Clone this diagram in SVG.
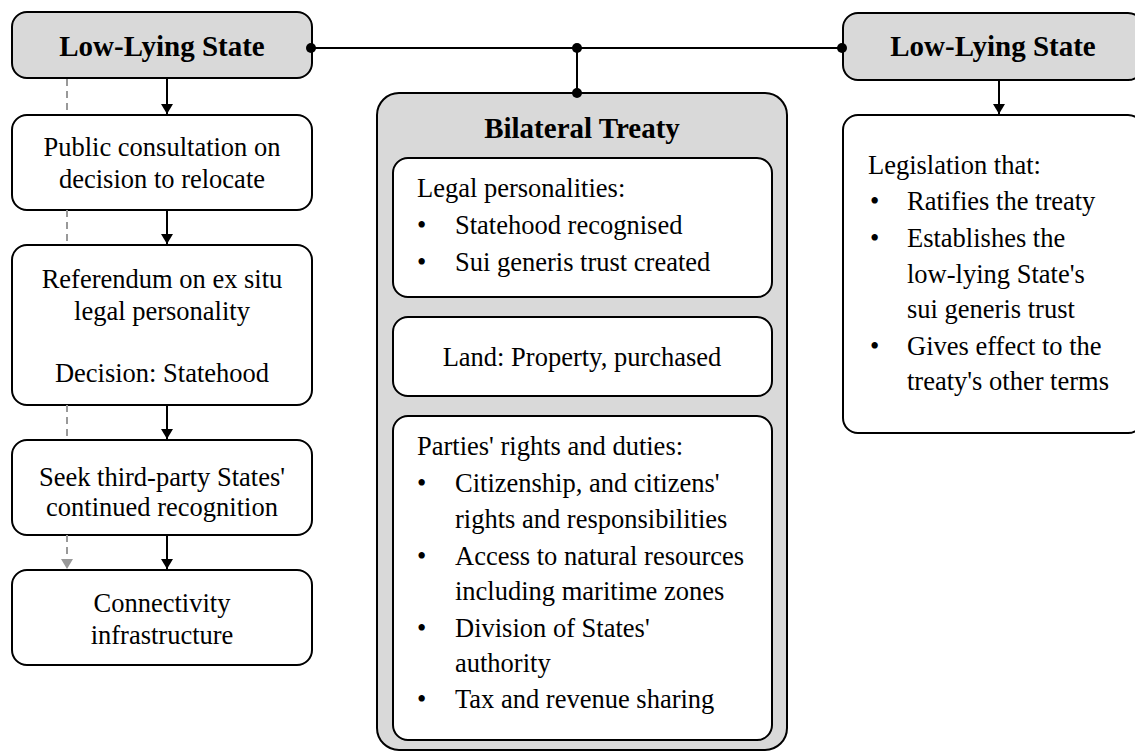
<svg xmlns="http://www.w3.org/2000/svg" width="1135" height="753" viewBox="0 0 1135 753">
<style>
.box{fill:#fff;stroke:#000;stroke-width:2}
.grey{fill:#d9d9d9;stroke:#000;stroke-width:2}
.t{font-family:'Liberation Serif','Tinos','Times New Roman','DejaVu Serif',serif;font-size:26.5px;fill:#000}
.b{font-family:'Liberation Serif','Tinos','Times New Roman','DejaVu Serif',serif;font-size:29px;font-weight:bold;fill:#000}
.c{text-anchor:middle}
.ln{stroke:#000;stroke-width:2;fill:none}
.dash{stroke:#999;stroke-width:2;fill:none;stroke-dasharray:7,5}
</style>
<defs>
<marker id="ah" viewBox="0 0 10 10" refX="10" refY="5" markerWidth="5" markerHeight="6" orient="auto" markerUnits="strokeWidth" preserveAspectRatio="none"><path d="M0,0 L10,5 L0,10 Z" fill="#000"/></marker>
<marker id="ahg" viewBox="0 0 10 10" refX="10" refY="5" markerWidth="5" markerHeight="6" orient="auto" markerUnits="strokeWidth" preserveAspectRatio="none"><path d="M0,0 L10,5 L0,10 Z" fill="#999"/></marker>
</defs>
<g id="lls-left">
<rect class="grey" x="12" y="12" width="300" height="66" rx="15"/>
<text class="b c" x="162" y="56">Low-Lying State</text>
</g>
<g id="consultation">
<rect class="box" x="12" y="115" width="300" height="95" rx="15"/>
<text class="t c" x="162" y="156">Public consultation on</text>
<text class="t c" x="162" y="188">decision to relocate</text>
</g>
<g id="referendum">
<rect class="box" x="12" y="245" width="300" height="160" rx="15"/>
<text class="t c" x="162" y="288">Referendum on ex situ</text>
<text class="t c" x="162" y="320">legal personality</text>
<text class="t c" x="162" y="382">Decision: Statehood</text>
</g>
<g id="recognition">
<rect class="box" x="12" y="440" width="300" height="95" rx="15"/>
<text class="t c" x="162" y="486">Seek third-party States'</text>
<text class="t c" x="162" y="516">continued recognition</text>
</g>
<g id="connectivity">
<rect class="box" x="12" y="570" width="300" height="95" rx="15"/>
<text class="t c" x="162" y="612">Connectivity</text>
<text class="t c" x="162" y="644">infrastructure</text>
</g>
<g id="treaty">
<rect class="grey" x="377" y="93" width="410" height="657" rx="22"/>
<text class="b c" x="582" y="138">Bilateral Treaty</text>
</g>
<g id="legal-personalities">
<rect class="box" x="393" y="158" width="379" height="139" rx="15"/>
<text class="t" x="417" y="197">Legal personalities:</text>
<text class="t" x="417" y="234">•</text><text class="t" x="455" y="234">Statehood recognised</text>
<text class="t" x="417" y="271">•</text><text class="t" x="455" y="271">Sui generis trust created</text>
</g>
<g id="land">
<rect class="box" x="393" y="317" width="379" height="79" rx="15"/>
<text class="t c" x="582" y="366">Land: Property, purchased</text>
</g>
<g id="rights">
<rect class="box" x="393" y="416" width="379" height="324" rx="15"/>
<text class="t" x="417" y="455">Parties' rights and duties:</text>
<text class="t" x="417" y="492">•</text><text class="t" x="455" y="492">Citizenship, and citizens'</text>
<text class="t" x="455" y="528">rights and responsibilities</text>
<text class="t" x="417" y="565">•</text><text class="t" x="455" y="565">Access to natural resources</text>
<text class="t" x="455" y="600">including maritime zones</text>
<text class="t" x="417" y="637">•</text><text class="t" x="455" y="637">Division of States'</text>
<text class="t" x="455" y="672">authority</text>
<text class="t" x="417" y="708">•</text><text class="t" x="455" y="708">Tax and revenue sharing</text>
</g>
<g id="lls-right">
<rect class="grey" x="843" y="13" width="300" height="67" rx="15"/>
<text class="b c" x="993" y="56">Low-Lying State</text>
</g>
<g id="legislation">
<rect class="box" x="843" y="115" width="300" height="318" rx="15"/>
<text class="t" x="868" y="174">Legislation that:</text>
<text class="t" x="870" y="210">•</text><text class="t" x="907" y="210">Ratifies the treaty</text>
<text class="t" x="870" y="247">•</text><text class="t" x="907" y="247">Establishes the</text>
<text class="t" x="907" y="283">low-lying State's</text>
<text class="t" x="907" y="318">sui generis trust</text>
<text class="t" x="870" y="355">•</text><text class="t" x="907" y="355">Gives effect to the</text>
<text class="t" x="907" y="390">treaty's other terms</text>
</g>
<g id="connectors">
<path class="dash" d="M67,79 V115 M67,210 V245 M67,405 V440 M67,535 V569" marker-end="url(#ahg)"/>
<path class="ln" d="M167,79 V114" marker-end="url(#ah)"/>
<path class="ln" d="M167,210 V244" marker-end="url(#ah)"/>
<path class="ln" d="M167,405 V439" marker-end="url(#ah)"/>
<path class="ln" d="M167,535 V569" marker-end="url(#ah)"/>
<path class="ln" d="M311,48 H842"/>
<path class="ln" d="M577,48 V93"/>
<path class="ln" d="M999,80 V114" marker-end="url(#ah)"/>
<circle cx="311" cy="48" r="5" fill="#000"/>
<circle cx="577" cy="48" r="5" fill="#000"/>
<circle cx="577" cy="93" r="5" fill="#000"/>
<circle cx="842" cy="48" r="5" fill="#000"/>
</g>
</svg>
